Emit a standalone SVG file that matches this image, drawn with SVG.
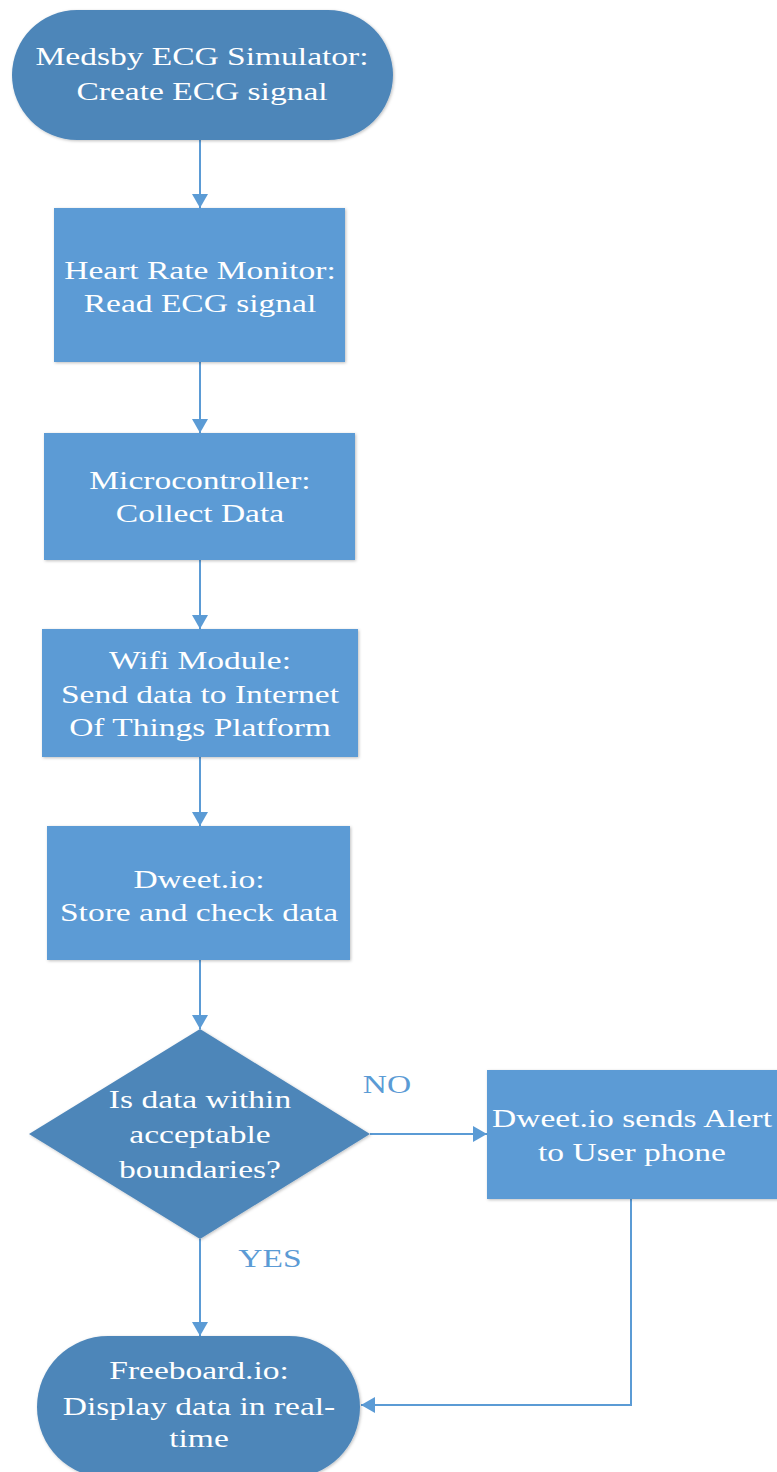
<svg xmlns="http://www.w3.org/2000/svg" width="777" height="1472" viewBox="0 0 777 1472">
<style>
.term{fill:#4e86b9;}
.proc{fill:#5b9bd5;}
.lbl{font-family:"Liberation Serif","Times New Roman",serif;font-size:25px;fill:#ffffff;text-anchor:middle;}
.yn{font-family:"Liberation Serif","Times New Roman",serif;font-size:25px;fill:#5b9bd5;text-anchor:middle;}
.conn{stroke:#5b9bd5;stroke-width:2;fill:none;}
</style>
<defs>
<marker id="arr" viewBox="0 0 14 16" refX="14" refY="8" markerWidth="14" markerHeight="16" markerUnits="userSpaceOnUse" orient="auto">
<path d="M0,0 L14,8 L0,16 Z" fill="#5b9bd5"/>
</marker>
<filter id="sh" x="-5%" y="-5%" width="110%" height="110%">
<feDropShadow dx="1" dy="1" stdDeviation="1.5" flood-color="#000" flood-opacity="0.25"/>
</filter>
</defs>
<rect width="777" height="1472" fill="#ffffff"/>
<g id="connectors">
<line class="conn" x1="200" y1="140" x2="200" y2="208" marker-end="url(#arr)"/>
<line class="conn" x1="200" y1="362" x2="200" y2="433" marker-end="url(#arr)"/>
<line class="conn" x1="200" y1="560" x2="200" y2="629" marker-end="url(#arr)"/>
<line class="conn" x1="200" y1="757" x2="200" y2="826" marker-end="url(#arr)"/>
<line class="conn" x1="200" y1="960" x2="200" y2="1029" marker-end="url(#arr)"/>
<line class="conn" x1="370" y1="1134" x2="487" y2="1134" marker-end="url(#arr)"/>
<line class="conn" x1="200" y1="1239" x2="200" y2="1336" marker-end="url(#arr)"/>
<polyline class="conn" points="631,1199 631,1405 361,1405" marker-end="url(#arr)"/>
<text class="yn" transform="translate(387,1093) scale(1.34,1)" x="0" y="0">NO</text>
<text class="yn" transform="translate(270,1267) scale(1.34,1)" x="0" y="0">YES</text>
</g>
<g id="n1">
<rect class="term" x="12" y="10" width="381" height="130" rx="65" ry="65" filter="url(#sh)"/>
<text class="lbl" transform="translate(202,65) scale(1.34,1)">Medsby ECG Simulator:</text>
<text class="lbl" transform="translate(202,100) scale(1.34,1)">Create ECG signal</text>
</g>
<g id="n2">
<rect class="proc" x="54" y="208" width="291" height="154" filter="url(#sh)"/>
<text class="lbl" transform="translate(200,279) scale(1.34,1)">Heart Rate Monitor:</text>
<text class="lbl" transform="translate(200,312) scale(1.34,1)">Read ECG signal</text>
</g>
<g id="n3">
<rect class="proc" x="44" y="433" width="311" height="127" filter="url(#sh)"/>
<text class="lbl" transform="translate(200,489) scale(1.34,1)">Microcontroller:</text>
<text class="lbl" transform="translate(200,522) scale(1.34,1)">Collect Data</text>
</g>
<g id="n4">
<rect class="proc" x="42" y="629" width="316" height="128" filter="url(#sh)"/>
<text class="lbl" transform="translate(200,669) scale(1.34,1)">Wifi Module:</text>
<text class="lbl" transform="translate(200,703) scale(1.34,1)">Send data to Internet</text>
<text class="lbl" transform="translate(200,736) scale(1.34,1)">Of Things Platform</text>
</g>
<g id="n5">
<rect class="proc" x="47" y="826" width="303" height="134" filter="url(#sh)"/>
<text class="lbl" transform="translate(199,888) scale(1.34,1)">Dweet.io:</text>
<text class="lbl" transform="translate(199,921) scale(1.34,1)">Store and check data</text>
</g>
<g id="n6">
<polygon class="term" points="200,1029 370,1134 200,1239 29,1134" filter="url(#sh)"/>
<text class="lbl" transform="translate(200,1108) scale(1.34,1)">Is data within</text>
<text class="lbl" transform="translate(200,1143) scale(1.34,1)">acceptable</text>
<text class="lbl" transform="translate(200,1178) scale(1.34,1)">boundaries?</text>
</g>
<g id="n7">
<rect class="proc" x="487" y="1070" width="292" height="129" filter="url(#sh)"/>
<text class="lbl" transform="translate(632,1127) scale(1.34,1)">Dweet.io sends Alert</text>
<text class="lbl" transform="translate(632,1161) scale(1.34,1)">to User phone</text>
</g>
<g id="n8">
<rect class="term" x="37" y="1336" width="323" height="142" rx="71" ry="71" filter="url(#sh)"/>
<text class="lbl" transform="translate(199,1379) scale(1.34,1)">Freeboard.io:</text>
<text class="lbl" transform="translate(199,1415) scale(1.34,1)">Display data in real-</text>
<text class="lbl" transform="translate(199,1447) scale(1.34,1)">time</text>
</g>
</svg>
